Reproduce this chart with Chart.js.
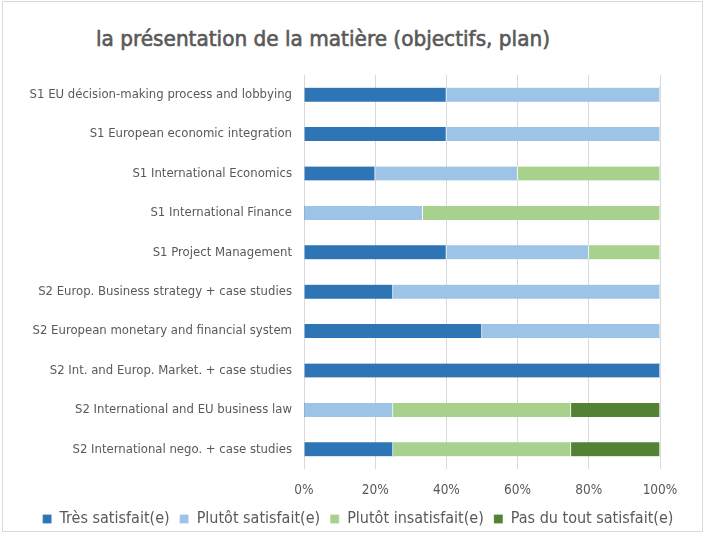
<!DOCTYPE html>
<html>
<head>
<meta charset="utf-8">
<script src="https://cdn.jsdelivr.net/npm/chart.js@4"></script>
<style>
  html, body { margin: 0; padding: 0; background: #fff; }
  #wrap { position: relative; width: 705px; height: 539px; }
  #frame { position: absolute; left: 2px; top: 1px; width: 701px; height: 531px; border: 1px solid #d9d9d9; box-sizing: border-box; pointer-events: none; }
  #title { position: absolute; left: 96px; top: 28px; margin: 0; font-family: "DejaVu Sans Condensed", sans-serif; font-weight: 400; font-size: 22px; line-height: 1; color: #595959; white-space: nowrap; transform-origin: 0 0; -webkit-text-stroke: 0.6px #595959; }
  canvas { position: absolute; left: 0; top: 0; }
</style>
</head>
<body>
<div id="wrap">
  <div id="frame"></div>
  <div id="title">la présentation de la matière (objectifs, plan)</div>
  <canvas id="c" width="705" height="539"></canvas>
</div>
<script>
const categories = [
  "S1 EU décision-making process and lobbying",
  "S1 European economic integration",
  "S1 International Economics",
  "S1 International Finance",
  "S1 Project Management",
  "S2 Europ. Business strategy + case studies",
  "S2 European monetary and financial system",
  "S2 Int. and Europ. Market. + case studies",
  "S2 International and EU business law",
  "S2 International nego. + case studies"
];
const seriesNames = ["Très satisfait(e)", "Plutôt satisfait(e)", "Plutôt insatisfait(e)", "Pas du tout satisfait(e)"];
const tresSatisfait      = [40, 40, 20, 0,     40, 25, 50, 100, 0,  25];
const plutotSatisfait    = [60, 60, 40, 33.33, 40, 75, 50, 0,   25, 0];
const plutotInsatisfait  = [0,  0,  40, 66.67, 20, 0,  0,  0,   50, 50];
const pasDuToutSatisfait = [0,  0,  0,  0,     0,  0,  0,  0,   25, 25];
const xTicks = [0, 20, 40, 60, 80, 100];
const colors = ["#2E75B6", "#9DC3E6", "#A9D18E", "#548235"];

// fit title width to reference (~454px)
const titleEl = document.getElementById("title");
const tw = titleEl.getBoundingClientRect().width;
titleEl.style.transform = "scaleX(" + (454 / tw) + ")";

const allSeries = [tresSatisfait, plutotSatisfait, plutotInsatisfait, pasDuToutSatisfait];
const datasets = allSeries.map((vals, i) => ({
  label: seriesNames[i],
  data: vals,
  backgroundColor: colors[i],
  borderColor: "rgba(255,255,255,0.85)",
  borderWidth: { right: 1, left: 0, top: 0, bottom: 0 },
  borderSkipped: false,
  barThickness: 14
}));

// shift legend to be centred like the reference
const legendShift = {
  id: "legendShift",
  afterLayout(chart) {
    const l = chart.legend;
    if (l) { l.left += 28; l.right += 28; }
  }
};

const FONT = "'DejaVu Sans Condensed', sans-serif";
new Chart(document.getElementById("c"), {
  type: "bar",
  data: { labels: categories, datasets },
  plugins: [legendShift],
  options: {
    indexAxis: "y",
    responsive: false,
    animation: false,
    devicePixelRatio: 1,
    layout: { padding: { top: 75, right: 45, bottom: 2, left: 0 } },
    scales: {
      x: {
        stacked: true,
        min: 0, max: 100,
        afterBuildTicks: (s) => { s.ticks = xTicks.map(v => ({ value: v })); },
        afterFit: (s) => { s.height = 32; },
        grid: { color: "#d9d9d9", lineWidth: 1, drawTicks: false },
        border: { display: false },
        ticks: { padding: 13, color: "#595959", font: { family: FONT, size: 13.5 }, callback: v => v + "%" }
      },
      y: {
        stacked: true,
        afterFit: (s) => { s.width = 304; },
        grid: { display: false, drawTicks: false },
        border: { display: false },
        ticks: { padding: 12, color: "#595959", font: { family: FONT, size: 13 } }
      }
    },
    plugins: {
      title: { display: false },
      tooltip: { enabled: false },
      legend: {
        position: "bottom",
        labels: {
          boxWidth: 9, boxHeight: 9, padding: 10,
          color: "#595959",
          font: { family: FONT, size: 16 }
        }
      }
    }
  }
});
</script>
</body>
</html>
